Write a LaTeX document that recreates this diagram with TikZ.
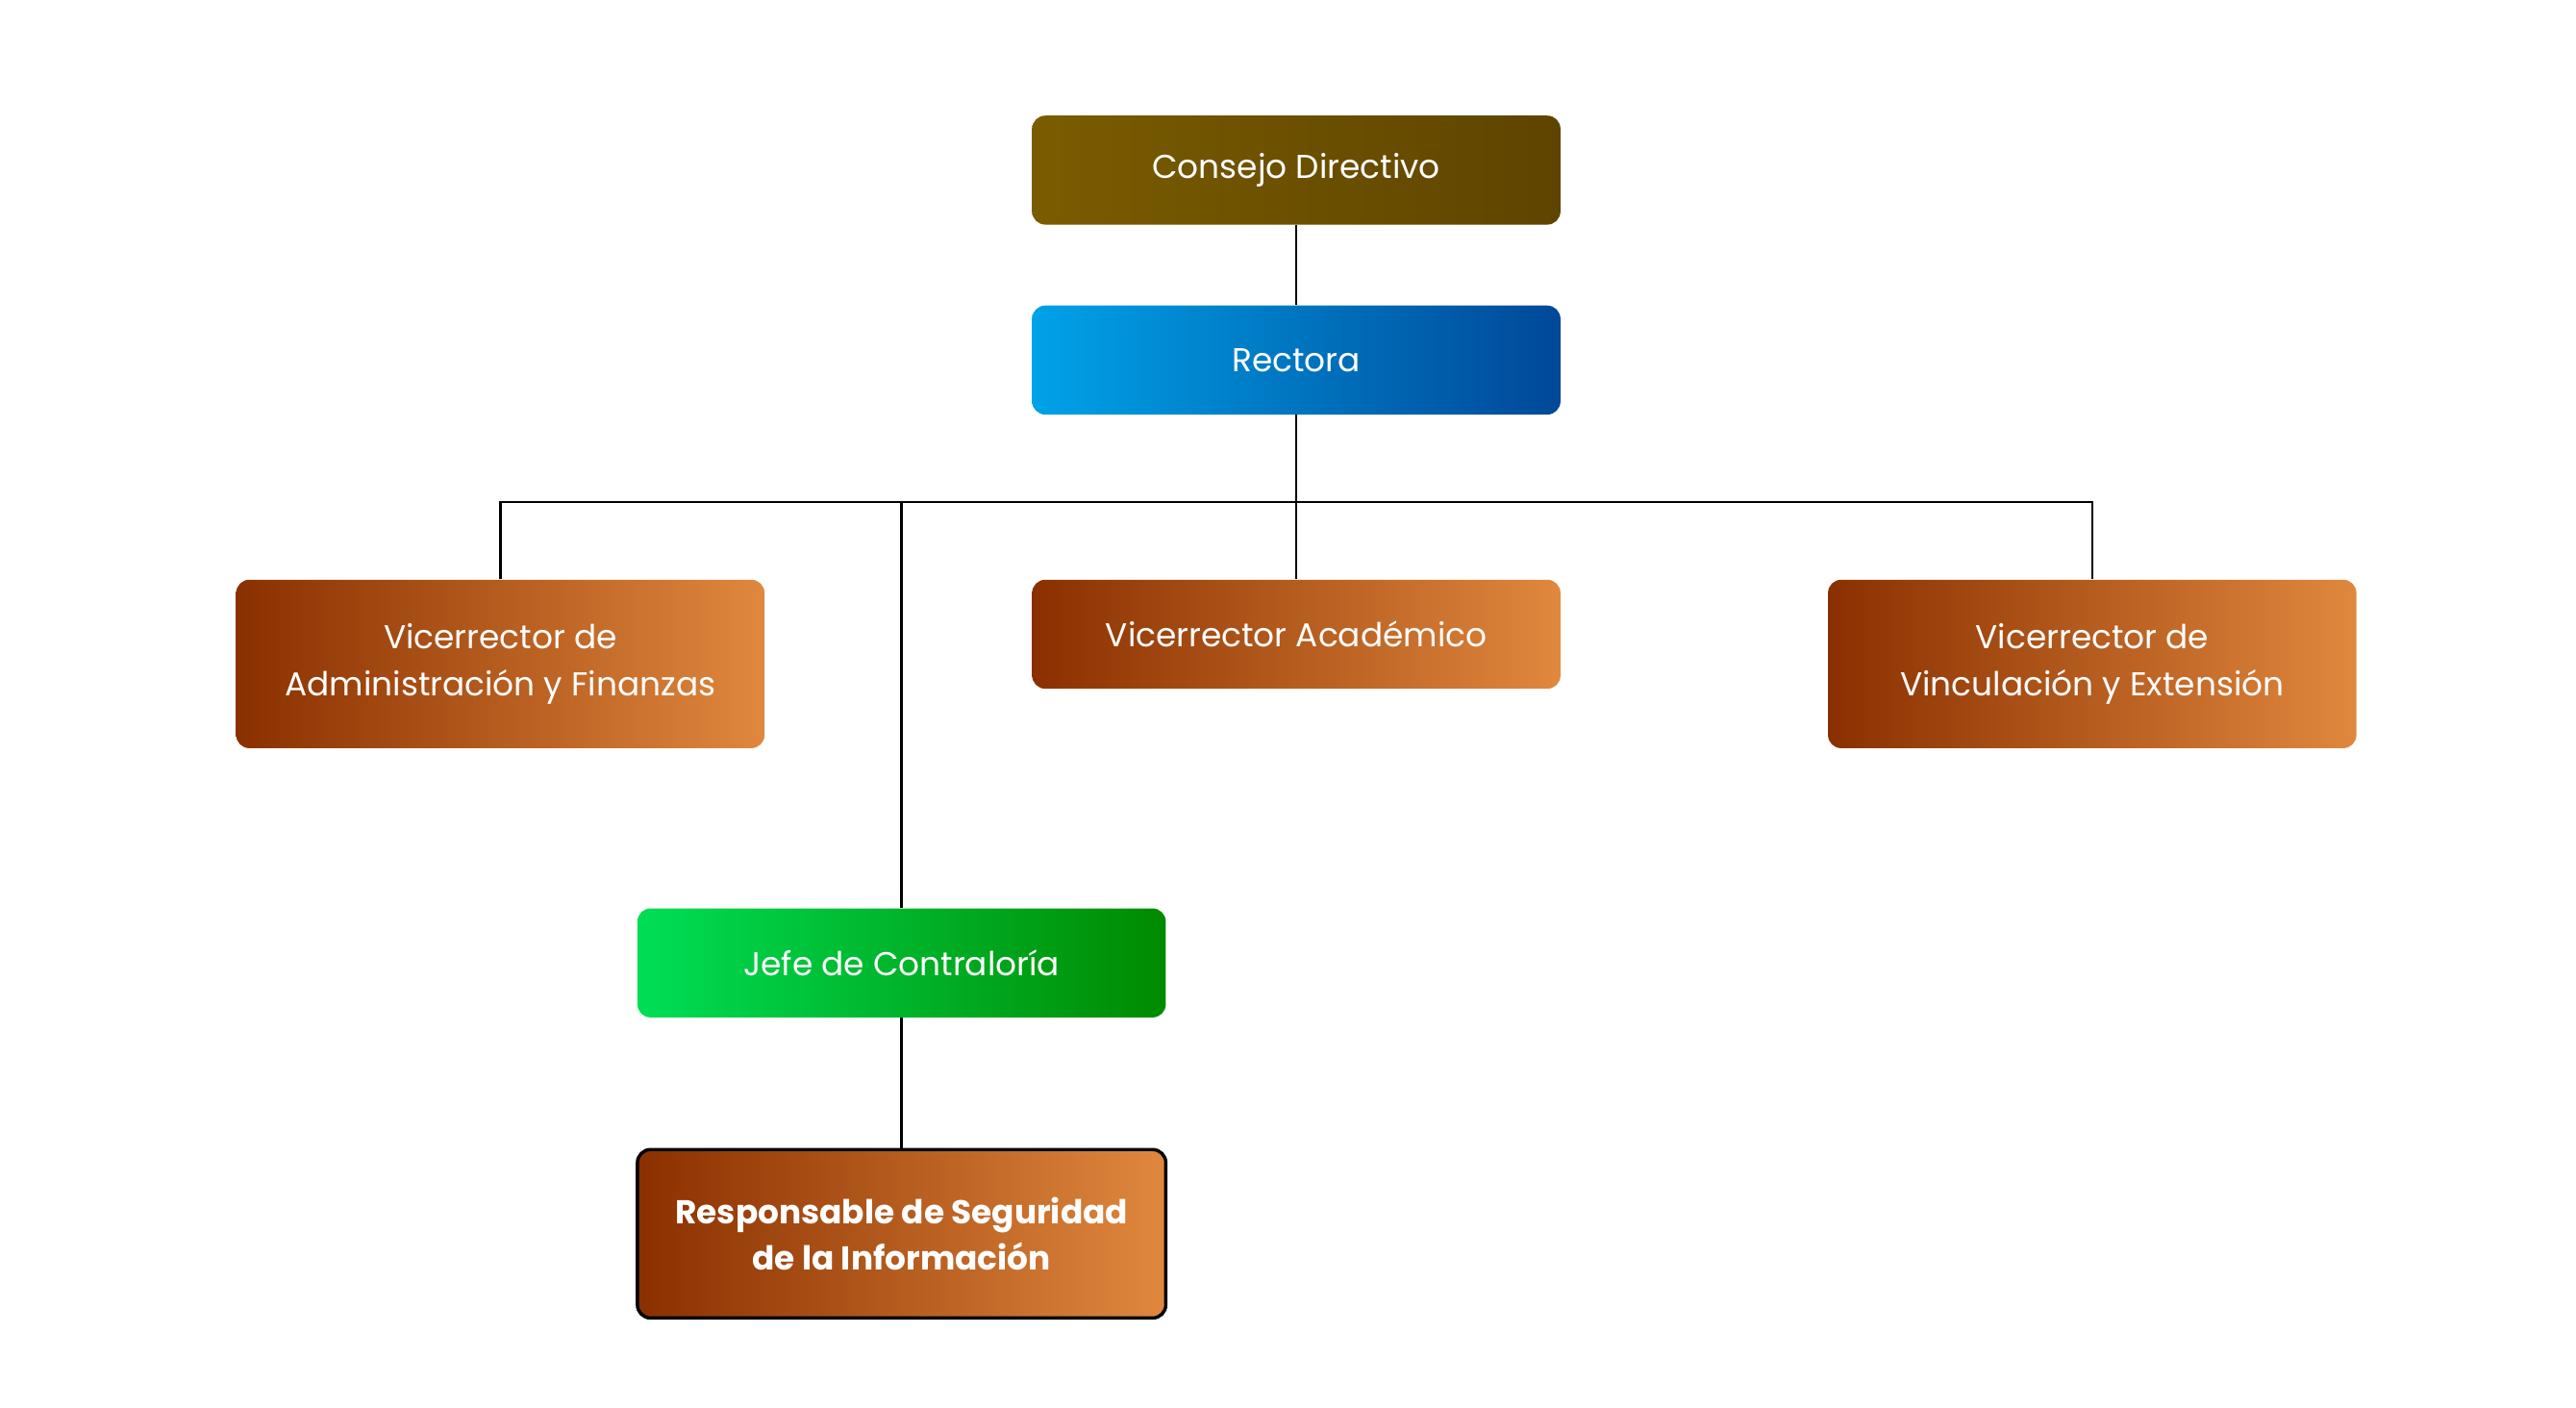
\documentclass[tikz,border=0pt]{standalone}
\usepackage{fontspec}
\setmainfont{Poppins}
\begin{document}
\begin{tikzpicture}[x=1pt,y=-1pt,
 box/.style={rounded corners=8pt,minimum width=320pt,text=white,align=center,font=\fontsize{20}{28}\selectfont,inner sep=0pt},
 orange/.style={box,left color=orange1,middle color=orange2,right color=orange3},
 ln/.style={line width=1.5pt,black}]
\definecolor{orange1}{HTML}{8A3000}
\definecolor{orange2}{HTML}{B85400}
\definecolor{orange3}{HTML}{E0883E}
\useasboundingbox (0,0) rectangle (1560,852);
\node[box,minimum height=66pt,left color=brown!60!black,right color=brown!40!black,shading=axis,left color={rgb,255:red,122;green,92;blue,0},right color={rgb,255:red,94;green,68;blue,0}] (cd) at (785,103) {Consejo Directivo};
\node[box,minimum height=66pt,left color={rgb,255:red,0;green,162;blue,232},right color={rgb,255:red,0;green,72;blue,152}] (r) at (785,218) {Rectora};
\node[orange,minimum height=102pt] (va) at (303,402) {Vicerrector de\\Administración y Finanzas};
\node[orange,minimum height=66pt] (vac) at (785,384) {Vicerrector Académico};
\node[orange,minimum height=102pt] (vv) at (1267,402) {Vicerrector de\\Vinculación y Extensión};
\node[box,minimum height=66pt,left color={rgb,255:red,0;green,222;blue,85},right color={rgb,255:red,0;green,138;blue,0}] (j) at (546,583) {Jefe de Contraloría};
\node[orange,minimum height=102pt,draw=black,line width=2pt,font=\bfseries\fontsize{20}{28}\selectfont] (rs) at (546,747) {Responsable de Seguridad\\de la Información};
\coordinate (h) at (785,304);
\draw[ln] (cd) -- (r);
\draw[ln] (r) -- (vac);
\draw[ln] (va.north) |- (h) -| (vv.north);
\draw[ln] (j.north) -- (j.north |- h);
\draw[ln] (j) -- (rs);
\end{tikzpicture}
\end{document}
